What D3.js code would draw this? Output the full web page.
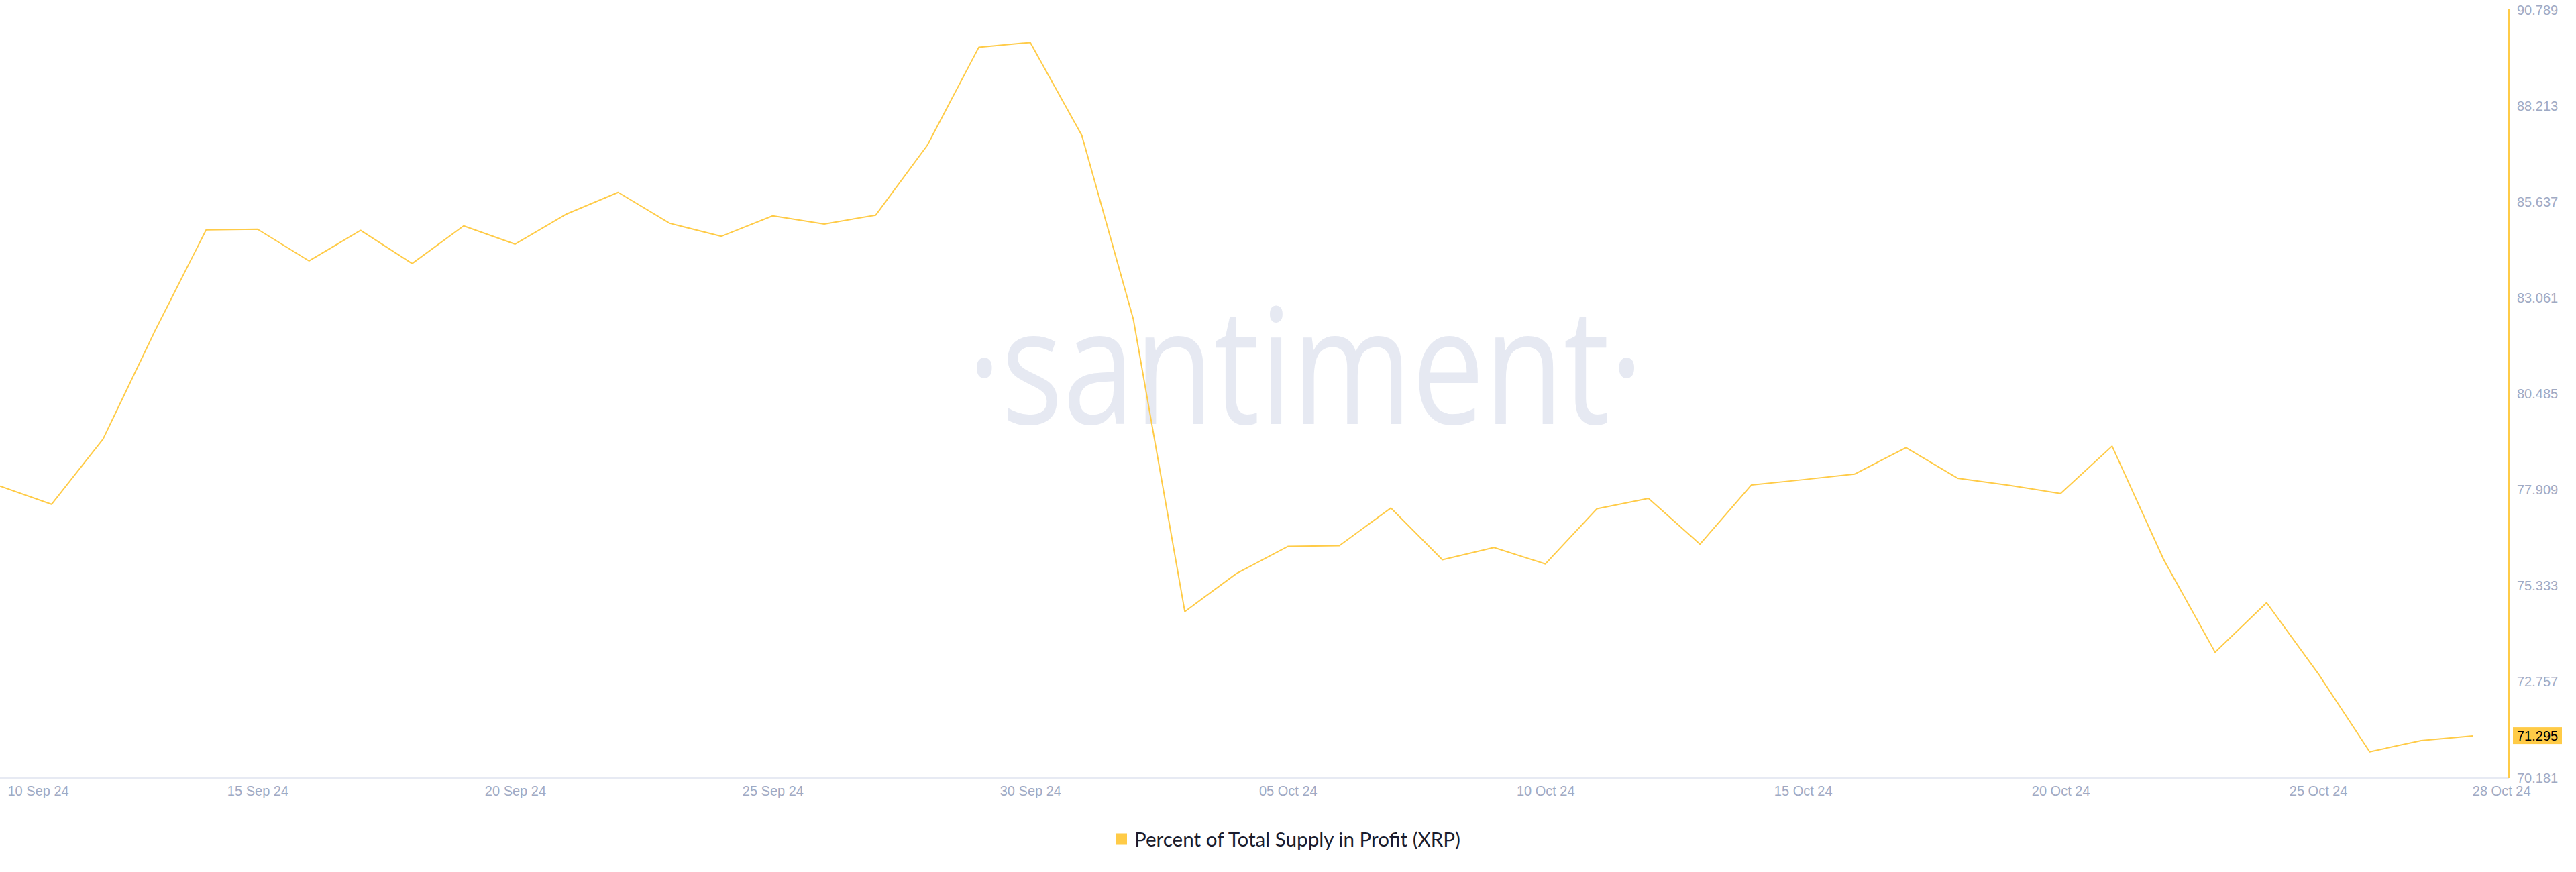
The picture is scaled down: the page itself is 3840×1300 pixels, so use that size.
<!DOCTYPE html>
<html>
<head>
<meta charset="utf-8">
<script src="https://cdn.jsdelivr.net/npm/d3@7"></script>
<style>
  html, body { margin: 0; padding: 0; background: #ffffff; }
  svg { display: block; }
</style>
</head>
<body>
<svg id="chart" width="3840" height="1300"></svg>
<script>
// ---- data ----
const dates = [
  "2024-09-10","2024-09-11","2024-09-12","2024-09-13","2024-09-14","2024-09-15","2024-09-16",
  "2024-09-17","2024-09-18","2024-09-19","2024-09-20","2024-09-21","2024-09-22","2024-09-23",
  "2024-09-24","2024-09-25","2024-09-26","2024-09-27","2024-09-28","2024-09-29","2024-09-30",
  "2024-10-01","2024-10-02","2024-10-03","2024-10-04","2024-10-05","2024-10-06","2024-10-07",
  "2024-10-08","2024-10-09","2024-10-10","2024-10-11","2024-10-12","2024-10-13","2024-10-14",
  "2024-10-15","2024-10-16","2024-10-17","2024-10-18","2024-10-19","2024-10-20","2024-10-21",
  "2024-10-22","2024-10-23","2024-10-24","2024-10-25","2024-10-26","2024-10-27","2024-10-28"
];
const profitPct = [
  78.00, 77.51, 79.26, 82.14, 84.87, 84.89, 84.04,
  84.86, 83.97, 84.98, 84.49, 85.30, 85.88, 85.05,
  84.70, 85.25, 85.03, 85.27, 87.14, 89.77, 89.90,
  87.41, 82.48, 74.63, 75.65, 76.38, 76.40, 77.41,
  76.02, 76.35, 75.91, 77.39, 77.67, 76.44, 78.03,
  78.17, 78.32, 79.03, 78.21, 78.02, 77.80, 79.07,
  76.03, 73.54, 74.87, 72.97, 70.87, 71.17, 71.295
];
const yTickValues = [70.181, 72.757, 75.333, 77.909, 80.485, 83.061, 85.637, 88.213, 90.789];
const xTickDates = ["2024-09-10","2024-09-15","2024-09-20","2024-09-25","2024-09-30",
  "2024-10-05","2024-10-10","2024-10-15","2024-10-20","2024-10-25","2024-10-28"];
const lastValue = 71.295;
const seriesName = "Percent of Total Supply in Profit (XRP)";
const watermark = "\u00B7santiment\u00B7";

// ---- layout ----
const parse = d3.utcParse("%Y-%m-%d");
const data = dates.map((d, i) => ({ date: parse(d), value: profitPct[i] }));
const COLOR = "#ffcb47";
const TICK_COLOR = "#9faac4";
const plotLeft = 0, plotRight = 3686, axisX = 3740, plotTop = 14, plotBottom = 1159;

const svg = d3.select("#chart");
svg.append("rect").attr("width", 3840).attr("height", 1300).attr("fill", "#ffffff");

const x = d3.scaleUtc()
  .domain([parse(dates[0]), parse(dates[dates.length - 1])])
  .range([plotLeft, plotRight]);
const y = d3.scaleLinear()
  .domain([yTickValues[0], yTickValues[yTickValues.length - 1]])
  .range([plotBottom, plotTop]);

// watermark
svg.append("text")
  .attr("x", 1442).attr("y", 632)
  .attr("font-family", "'Open Sans', sans-serif")
  .attr("font-size", 241)
  .attr("fill", "#e6e9f2")
  .attr("textLength", 1008)
  .attr("lengthAdjust", "spacingAndGlyphs")
  .text(watermark);

// bottom axis line
svg.append("line")
  .attr("x1", 0).attr("x2", axisX)
  .attr("y1", plotBottom + 1).attr("y2", plotBottom + 1)
  .attr("stroke", "#e7eaf3").attr("stroke-width", 2);

// x axis labels
const xAxis = d3.axisBottom(x)
  .tickValues(xTickDates.map(parse))
  .tickFormat(d3.utcFormat("%d %b %y"))
  .tickSize(0).tickPadding(0);
const gx = svg.append("g").attr("transform", `translate(0,${plotBottom + 1})`).call(xAxis);
gx.select(".domain").remove();
gx.selectAll("text")
  .attr("font-family", "'Liberation Sans', Arial, Helvetica, sans-serif")
  .attr("font-size", 20)
  .attr("fill", TICK_COLOR)
  .attr("dy", null)
  .attr("y", 19)
  .attr("dominant-baseline", "central");
const xLabels = gx.selectAll(".tick text").nodes();
d3.select(xLabels[0]).attr("text-anchor", "start").attr("x", 11);
d3.select(xLabels[xLabels.length - 1]).attr("text-anchor", "end").attr("x", 86);

// right axis
svg.append("line")
  .attr("x1", axisX).attr("x2", axisX)
  .attr("y1", plotTop).attr("y2", plotBottom + 1)
  .attr("stroke", COLOR).attr("stroke-width", 2);

const yAxis = d3.axisRight(y)
  .tickValues(yTickValues)
  .tickFormat(d3.format(".3f"))
  .tickSize(0).tickPadding(0);
const gy = svg.append("g").attr("transform", `translate(${axisX + 12},0)`).call(yAxis);
gy.select(".domain").remove();
gy.selectAll("text")
  .attr("font-family", "'Liberation Sans', Arial, Helvetica, sans-serif")
  .attr("font-size", 20)
  .attr("fill", TICK_COLOR)
  .attr("x", 0)
  .attr("dy", null)
  .attr("dominant-baseline", "central");

// line
const line = d3.line().x(d => x(d.date)).y(d => y(d.value));
svg.append("path")
  .datum(data)
  .attr("fill", "none")
  .attr("stroke", COLOR)
  .attr("stroke-width", 2)
  .attr("stroke-linejoin", "round")
  .attr("d", line);

// last value badge
const badge = svg.append("g").attr("transform", `translate(${axisX + 6},${y(lastValue)})`);
badge.append("rect").attr("x", 0).attr("y", -13).attr("width", 73).attr("height", 25).attr("fill", COLOR);
badge.append("text")
  .attr("x", 6).attr("y", 0)
  .attr("dominant-baseline", "central")
  .attr("font-family", "'Liberation Sans', Arial, Helvetica, sans-serif")
  .attr("font-size", 20)
  .attr("fill", "#000000")
  .text(d3.format(".3f")(lastValue));

// legend
const legend = svg.append("g").attr("transform", "translate(1663,1251)");
legend.append("rect").attr("x", 0).attr("y", -8.5).attr("width", 17).attr("height", 17).attr("fill", COLOR);
legend.append("text")
  .attr("x", 28).attr("y", 0)
  .attr("dominant-baseline", "central")
  .attr("font-family", "Lato, 'Liberation Sans', sans-serif")
  .attr("font-size", 28)
  .attr("fill", "#1a1c2e")
  .attr("textLength", 486)
  .attr("lengthAdjust", "spacingAndGlyphs")
  .text(seriesName);
</script>
</body>
</html>
